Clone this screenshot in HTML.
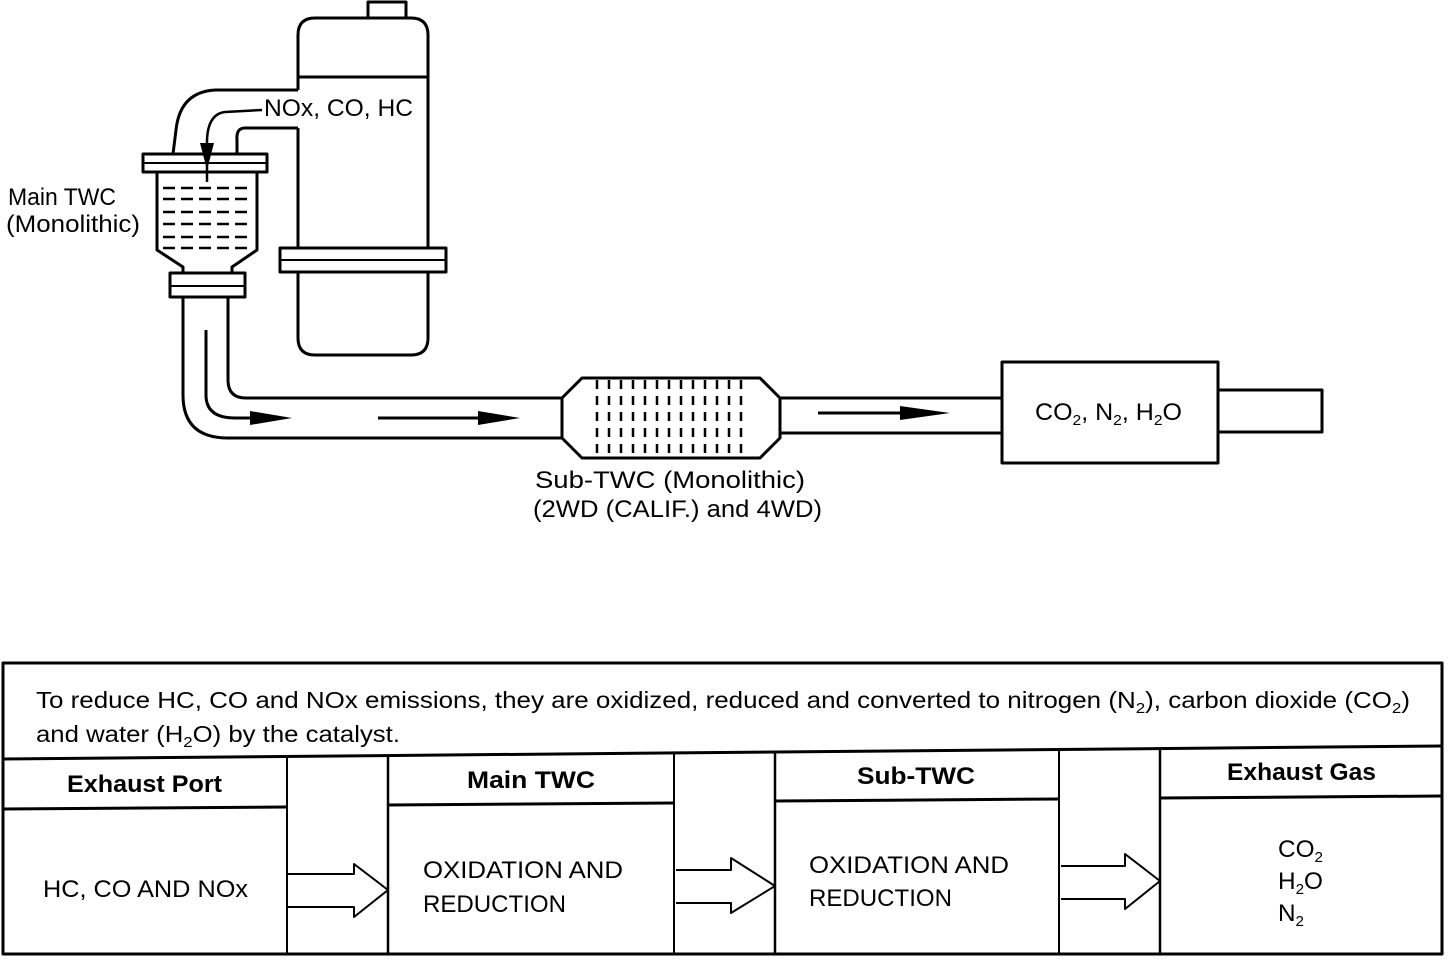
<!DOCTYPE html>
<html><head><meta charset="utf-8"><style>
html,body{margin:0;padding:0;background:#fff;}
svg{display:block;}
text{font-family:"Liberation Sans",sans-serif;fill:#000;}
</style></head><body>
<svg width="1456" height="976" viewBox="0 0 1456 976" xmlns="http://www.w3.org/2000/svg">
<g fill="none" stroke="#000" stroke-width="3" stroke-linejoin="round">
<path d="M298 90 L298 35 Q298 18 315 18 L411 18 Q428 18 428 35 L428 248"/>
<path d="M368 18 L368 2 L406 2 L406 18"/>
<line x1="298" y1="77" x2="428" y2="77"/>
<path d="M298 128 L298 248"/>
<path d="M280 248 L446 248 L446 272 L280 272 Z"/>
<line x1="280" y1="260" x2="446" y2="260" stroke-width="2"/>
<path d="M298 272 L298 338 Q298 355 315 355 L411 355 Q428 355 428 338 L428 272"/>
<path d="M298 90 L215 90 Q180 92 176 130 L173 154"/>
<path d="M298 128 L245 128 Q236 128 237 140 L237 154"/>
<path d="M143 154 L267 154 L267 172 L143 172 Z"/>
<line x1="143" y1="163" x2="267" y2="163" stroke-width="2"/>
<path d="M157 172 L157 250 L183 267 L183 273 M257 172 L257 250 L232 267 L232 273"/>
<path d="M170 273 L245 273 L245 297 L170 297 Z"/>
<line x1="170" y1="286" x2="245" y2="286" stroke-width="2"/>
<g stroke-width="2.5" stroke-dasharray="12 6">
<line x1="163" y1="188" x2="252" y2="188"/><line x1="163" y1="199" x2="252" y2="199"/>
<line x1="163" y1="212" x2="252" y2="212"/><line x1="163" y1="224" x2="252" y2="224"/>
<line x1="163" y1="237" x2="252" y2="237"/><line x1="163" y1="248" x2="252" y2="248"/>
</g>
<path d="M262 110 L225 112 Q208 114 207 140 L207 182" stroke-width="2.5"/>
<path d="M183 297 L183 395 Q183 438 228 438 L562 438"/>
<path d="M228 297 L228 380 Q228 398 246 398 L562 398"/>
<path d="M206 330 L206 395 Q206 418 235 418 L252 418"/>
<line x1="378" y1="418" x2="482" y2="418"/>
<path d="M562 398 L562 438 L582 458 L760 458 L780 438 L780 398 L760 378 L582 378 Z"/>
<g stroke-width="2.5" stroke-dasharray="9 7">
<line x1="597" y1="380" x2="597" y2="456"/><line x1="609" y1="380" x2="609" y2="456"/>
<line x1="621" y1="380" x2="621" y2="456"/><line x1="633" y1="380" x2="633" y2="456"/>
<line x1="645" y1="380" x2="645" y2="456"/><line x1="657" y1="380" x2="657" y2="456"/>
<line x1="669" y1="380" x2="669" y2="456"/><line x1="681" y1="380" x2="681" y2="456"/>
<line x1="693" y1="380" x2="693" y2="456"/><line x1="705" y1="380" x2="705" y2="456"/>
<line x1="717" y1="380" x2="717" y2="456"/><line x1="729" y1="380" x2="729" y2="456"/>
<line x1="741" y1="380" x2="741" y2="456"/>
</g>
<line x1="780" y1="398" x2="1002" y2="398"/><line x1="780" y1="433" x2="1002" y2="433"/>
<line x1="818" y1="413" x2="902" y2="413"/>
<rect x="1002" y="362" width="216" height="101"/>
<path d="M1218 390 L1322 390 L1322 432 L1218 432"/>
<rect x="3" y="663" width="1439" height="291"/>
<line x1="3" y1="759" x2="1442" y2="746"/>
<line x1="287" y1="757" x2="287" y2="954" stroke-width="2"/>
<line x1="388" y1="756" x2="388" y2="954" stroke-width="2.5"/>
<line x1="674" y1="753" x2="674" y2="954" stroke-width="2"/>
<line x1="775" y1="752" x2="775" y2="954" stroke-width="2.5"/>
<line x1="1059" y1="750" x2="1059" y2="954" stroke-width="2"/>
<line x1="1160" y1="749" x2="1160" y2="954" stroke-width="2.5"/>
<line x1="3" y1="809" x2="287" y2="807"/>
<line x1="388" y1="805" x2="674" y2="803"/>
<line x1="775" y1="801" x2="1059" y2="799"/>
<line x1="1160" y1="798" x2="1442" y2="796"/>
<g stroke-width="2">
<path d="M288 874 L354 874 L354 864 L388 890 L354 917 L354 907 L288 907"/>
<path d="M676 870 L731 870 L731 858 L775 886 L731 913 L731 903 L676 903"/>
<path d="M1061 866 L1125 866 L1125 854 L1160 881 L1125 909 L1125 899 L1061 899"/>
</g>
</g>
<g fill="#000">
<polygon points="200,143 214,143 207,170"/>
<polygon points="250,411 292,418 250,425"/>
<polygon points="478,411 520,418 478,425"/>
<polygon points="900,406 950,413 900,420"/>
</g>
<g font-size="24" lengthAdjust="spacingAndGlyphs">
<text x="8" y="205" textLength="108" lengthAdjust="spacingAndGlyphs">Main TWC</text>
<text x="6" y="232" textLength="134" lengthAdjust="spacingAndGlyphs">(Monolithic)</text>
<text x="264" y="116" textLength="149" lengthAdjust="spacingAndGlyphs">NOx, CO, HC</text>
<text x="535" y="488" textLength="270" lengthAdjust="spacingAndGlyphs">Sub-TWC (Monolithic)</text>
<text x="533" y="517" textLength="289" lengthAdjust="spacingAndGlyphs">(2WD (CALIF.) and 4WD)</text>
<text x="1035" y="420" textLength="147" lengthAdjust="spacingAndGlyphs">CO<tspan font-size="15" dy="5">2</tspan><tspan dy="-5">, N</tspan><tspan font-size="15" dy="5">2</tspan><tspan dy="-5">, H</tspan><tspan font-size="15" dy="5">2</tspan><tspan dy="-5">O</tspan></text>
<text x="36" y="708" font-size="23" textLength="1374" lengthAdjust="spacingAndGlyphs">To reduce HC, CO and NOx emissions, they are oxidized, reduced and converted to nitrogen (N<tspan font-size="15" dy="5">2</tspan><tspan dy="-5">), carbon dioxide (CO</tspan><tspan font-size="15" dy="5">2</tspan><tspan dy="-5">)</tspan></text>
<text x="36" y="742" font-size="23" textLength="364" lengthAdjust="spacingAndGlyphs">and water (H<tspan font-size="15" dy="5">2</tspan><tspan dy="-5">O) by the catalyst.</tspan></text>
<g font-weight="bold">
<text x="67" y="792" textLength="155" lengthAdjust="spacingAndGlyphs">Exhaust Port</text>
<text x="467" y="788" textLength="128" lengthAdjust="spacingAndGlyphs">Main TWC</text>
<text x="857" y="784" textLength="118" lengthAdjust="spacingAndGlyphs">Sub-TWC</text>
<text x="1227" y="780" textLength="149" lengthAdjust="spacingAndGlyphs">Exhaust Gas</text>
</g>
<text x="43" y="897" textLength="205" lengthAdjust="spacingAndGlyphs">HC, CO AND NOx</text>
<text x="423" y="878" textLength="200" lengthAdjust="spacingAndGlyphs">OXIDATION AND</text>
<text x="423" y="912" textLength="143" lengthAdjust="spacingAndGlyphs">REDUCTION</text>
<text x="809" y="873" textLength="200" lengthAdjust="spacingAndGlyphs">OXIDATION AND</text>
<text x="809" y="906" textLength="143" lengthAdjust="spacingAndGlyphs">REDUCTION</text>
<text x="1278" y="857" textLength="45" lengthAdjust="spacingAndGlyphs">CO<tspan font-size="15" dy="5">2</tspan></text>
<text x="1278" y="889" textLength="45" lengthAdjust="spacingAndGlyphs">H<tspan font-size="15" dy="5">2</tspan><tspan dy="-5">O</tspan></text>
<text x="1278" y="921" textLength="26" lengthAdjust="spacingAndGlyphs">N<tspan font-size="15" dy="5">2</tspan></text>
</g>
</svg>
</body></html>
